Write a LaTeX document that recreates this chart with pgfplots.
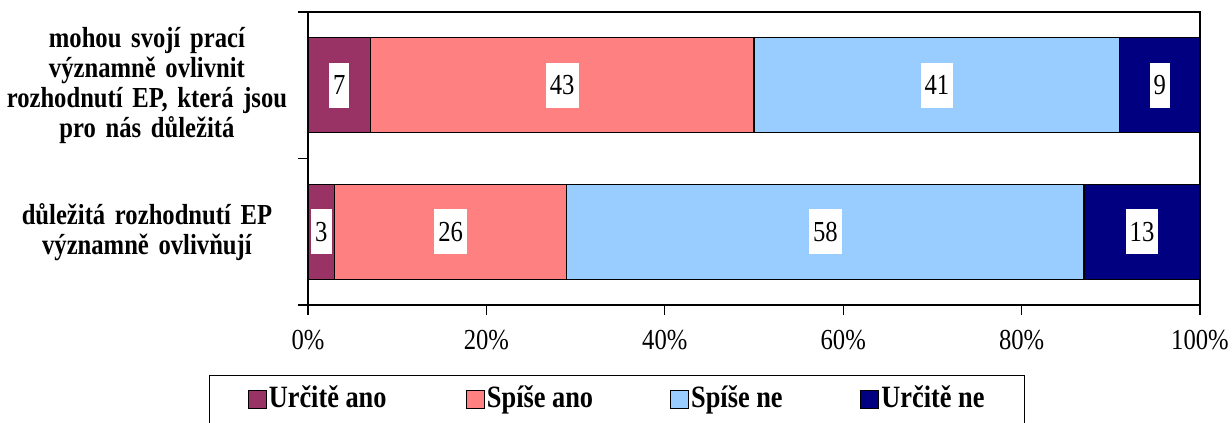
\documentclass[border=0pt]{standalone}
\usepackage{pgfplots}
\usepackage{pgfplotstable}
\pgfplotsset{compat=1.18}
\usepackage{fontspec}
\setmainfont{Liberation Serif}[FakeStretch=0.85]
\definecolor{cA}{HTML}{993366}
\definecolor{cB}{HTML}{FF8080}
\definecolor{cC}{HTML}{99CCFF}
\definecolor{cD}{HTML}{000080}
\pgfplotstableread{
c v
0 3
1 7
}\seriesA
\pgfplotstableread{
c v
0 26
1 43
}\seriesB
\pgfplotstableread{
c v
0 58
1 41
}\seriesC
\pgfplotstableread{
c v
0 13
1 9
}\seriesD
\begin{document}
\begin{tikzpicture}
\path[use as bounding box] (-154pt,-59pt) rectangle (462pt,152.5pt);
\begin{axis}[
  at={(0pt,0pt)}, anchor=south west,
  scale only axis, width=446pt, height=146.5pt,
  xbar stacked, bar width=47.5pt,
  xmin=0, xmax=100, ymin=-0.5, ymax=1.5,
  xtick={0,20,40,60,80,100},
  xticklabels={0\%,20\%,40\%,60\%,80\%,100\%},
  xticklabel style={font=\fontsize{14.5}{15}\selectfont, yshift=-4pt},
  ytick={-0.5,0.5,1.5}, yticklabels={},
  xtick pos=bottom, ytick pos=left, tick align=outside,
  major tick length=5pt,
  tick style={black, line width=0.6pt},
  extra y ticks={0,1},
  extra y tick labels={{důležitá rozhodnutí EP\\významně ovlivňují},{mohou svojí prací\\významně ovlivnit\\rozhodnutí EP, která jsou\\pro nás důležitá}},
  extra y tick style={major tick length=0pt, tick style={draw=none},
    yticklabel style={font=\fontsize{14.5}{15}\selectfont\bfseries, text width=142pt, align=center, anchor=east, xshift=-6pt}},
  axis line style={line width=0.6pt},
  legend style={at={(0.3464,-0.239)}, anchor=north, legend columns=4,
    draw=black, line width=0.6pt, inner xsep=19pt, inner ysep=4pt,
    font=\fontsize{15.5}{16}\selectfont\bfseries,
    nodes={inner xsep=1pt, inner ysep=1pt, text height=11pt, text depth=3pt}},
  legend image code/.code={\draw[#1,draw=black,line width=0.6pt] (0pt,-4.5pt) rectangle (9pt,4.5pt);},
  nodes near coords,
  point meta=explicit symbolic,
  nodes near coords={\pgfplotspointmeta},
  every node near coord/.append style={anchor=center, fill=white, text=black,
    inner xsep=2pt, inner ysep=0pt, minimum height=22.5pt,
    font=\fontsize{14.5}{15}\selectfont},
]
\addplot[fill=cA, draw=black, line width=0.6pt] table[x=v, y=c, meta=v]{\seriesA};
\addlegendentry{\makebox[97.5pt][l]{Určitě ano}}
\addplot[fill=cB, draw=black, line width=0.6pt] table[x=v, y=c, meta=v]{\seriesB};
\addlegendentry{\makebox[90.5pt][l]{Spíše ano}}
\addplot[fill=cC, draw=black, line width=0.6pt] table[x=v, y=c, meta=v]{\seriesC};
\addlegendentry{\makebox[83.5pt][l]{Spíše ne}}
\addplot[fill=cD, draw=black, line width=0.6pt] table[x=v, y=c, meta=v]{\seriesD};
\addlegendentry{\makebox[51.5pt][l]{Určitě ne}}
\end{axis}
\end{tikzpicture}
\end{document}
